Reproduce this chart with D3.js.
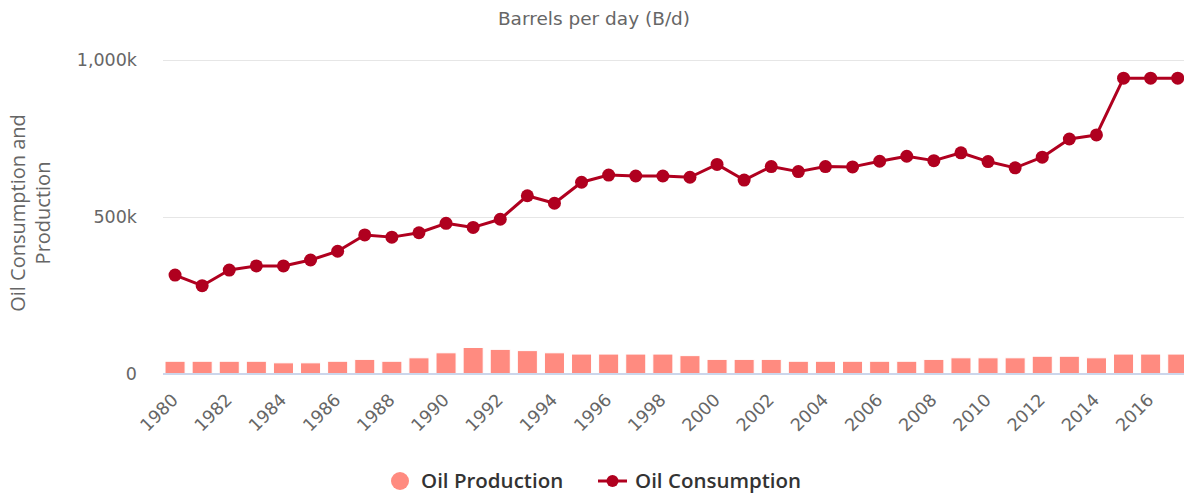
<!DOCTYPE html>
<html><head><meta charset="utf-8">
<script src="https://cdn.jsdelivr.net/npm/d3@7"></script>
<style>html,body{margin:0;padding:0;background:#fff;overflow:hidden}</style>
</head><body>
<svg id="chart" width="1184" height="495"></svg>
<script>
const years = d3.range(1980, 2018).map(String);
const production = [39,39,39,39,34,34,39,45,39,50,66,83,77,73,66,62,62,62,62,57,45,45,45,39,39,39,39,39,45,50,50,50,55,55,50,62,62,62];
const consumption = [314,280,330,343,343,362,390,442,435,449,479,466,492,567,543,610,633,630,630,626,667,617,660,644,660,659,677,693,679,704,676,656,690,748,761,942,942,942];
const yTicks = [0, 500, 1000];
const xLabelYears = years.filter((d,i)=>i%2===0);

const svg = d3.select("#chart");
const x = d3.scaleBand().domain(years).range([161.5, 1191.3]).paddingInner(0.26).paddingOuter(0.13);
const y = d3.scaleLinear().domain([0, 1000]).range([373.5, 60]);
const cx = d => x(d) + x.bandwidth()/2;

// gridlines
svg.append("g").selectAll("line").data(yTicks.filter(d=>d>0)).join("line")
  .attr("x1", 163).attr("x2", 1184).attr("y1", d=>Math.round(y(d))+0.5).attr("y2", d=>Math.round(y(d))+0.5)
  .attr("stroke", "#e6e6e6").attr("stroke-width", 1);

// y labels
svg.append("g").selectAll("text").data(yTicks).join("text")
  .attr("x", 137).attr("y", d=>y(d)+6).attr("text-anchor","end")
  .attr("font-family","DejaVu Sans, sans-serif").attr("font-size", 17.5).attr("fill","#666")
  .text(d => d===0 ? "0" : d3.format(",")(d)+"k");

// title
svg.append("text").attr("x", 594).attr("y", 25).attr("text-anchor","middle")
  .attr("font-family","DejaVu Sans, sans-serif").attr("font-size", 18.5).attr("fill","#666")
  .text("Barrels per day (B/d)");

// y axis title
const yt = svg.append("text").attr("transform","translate(0,213) rotate(-90)")
  .attr("text-anchor","middle").attr("font-family","Open Sans, sans-serif").attr("font-size", 20).attr("fill","#666");
yt.append("tspan").attr("x",0).attr("y",25).text("Oil Consumption and");
yt.append("tspan").attr("x",0).attr("y",50).text("Production");

// bars
svg.append("g").selectAll("rect").data(years).join("rect")
  .attr("x", d=>x(d)).attr("width", x.bandwidth())
  .attr("y", (d,i)=>y(production[i])).attr("height", (d,i)=>y(0)-y(production[i]))
  .attr("fill", "#ff8b80").attr("stroke","#fff").attr("stroke-width",1);

// x axis line
svg.append("line").attr("x1",163).attr("x2",1184).attr("y1",374).attr("y2",374)
  .attr("stroke","#ccd6eb").attr("stroke-width",2);

// x labels
svg.append("g").selectAll("text").data(xLabelYears).join("text")
  .attr("transform", d=>`translate(${cx(d)+4},401) rotate(-45)`)
  .attr("text-anchor","end").attr("font-family","DejaVu Sans, sans-serif").attr("font-size",17.5).attr("fill","#666")
  .text(d=>d);

// line
const lineColor = "#b0001f";
svg.append("path").datum(years)
  .attr("d", d3.line().x(d=>cx(d)).y((d,i)=>y(consumption[i])))
  .attr("fill","none").attr("stroke",lineColor).attr("stroke-width",3).attr("stroke-linejoin","round");
svg.append("g").selectAll("circle").data(years).join("circle")
  .attr("cx", d=>cx(d)).attr("cy", (d,i)=>y(consumption[i])).attr("r", 6.5).attr("fill", lineColor);

// legend
const lg = svg.append("g");
lg.append("circle").attr("cx",400).attr("cy",481).attr("r",9).attr("fill","#ff8b80");
lg.append("text").attr("x",421).attr("y",488).attr("font-family","Open Sans, sans-serif").attr("font-weight",600)
  .attr("font-size",20.5).attr("fill","#333").text("Oil Production");
lg.append("line").attr("x1",598).attr("x2",627).attr("y1",481).attr("y2",481).attr("stroke",lineColor).attr("stroke-width",3);
lg.append("circle").attr("cx",612.5).attr("cy",481).attr("r",6).attr("fill",lineColor);
lg.append("text").attr("x",635).attr("y",488).attr("font-family","Open Sans, sans-serif").attr("font-weight",600)
  .attr("font-size",20.5).attr("fill","#333").text("Oil Consumption");
</script>
</body></html>
